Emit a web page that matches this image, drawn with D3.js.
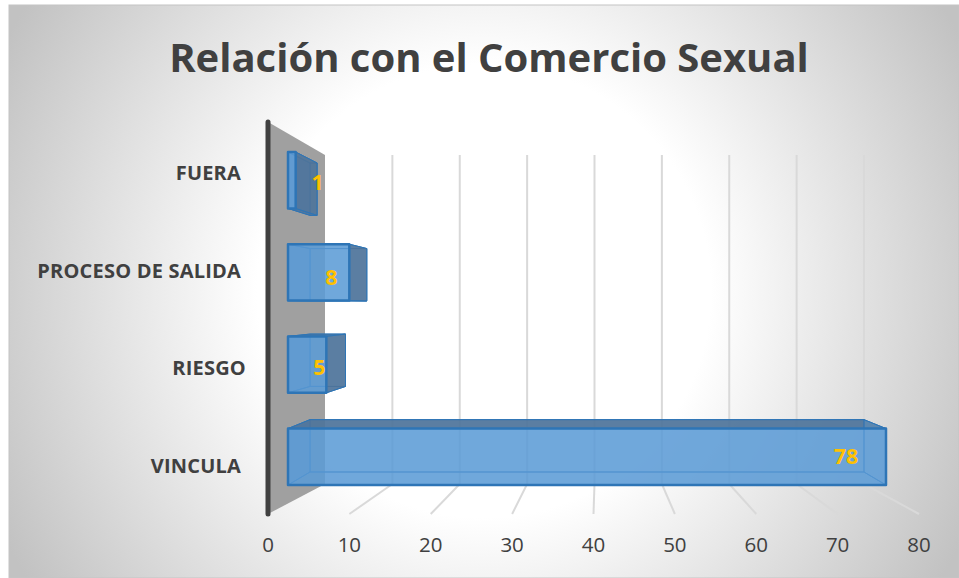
<!DOCTYPE html>
<html>
<head>
<meta charset="UTF-8">
<title>Relación con el Comercio Sexual</title>
<script src="https://d3js.org/d3.v7.min.js"></script>
<style>
    html, body { margin: 0; padding: 0; background: #fff; }
    svg { display: block; font-family: "Open Sans", sans-serif; }
    .title { font-size: 40px; font-weight: 700; fill: #404040; text-anchor: middle; }
    .cat { font-size: 20px; font-weight: 700; fill: #404040; text-anchor: end; letter-spacing: 0.2px; }
    .tick-label { font-size: 20.5px; fill: #404040; text-anchor: middle; }
    .value { font-size: 21.5px; font-weight: 700; fill: #ffc000; text-anchor: middle; }
    .grid { stroke: #d9d9d9; stroke-width: 2; fill: none; }
    .face { stroke: #2e75b6; stroke-width: 1; stroke-linejoin: round; }
    .front { stroke: #2e75b6; stroke-width: 2.5; stroke-linejoin: round; }
</style>
</head>
<body>
<script>
var titleText = "Relación con el Comercio Sexual";
var categories = ["FUERA", "PROCESO DE SALIDA", "RIESGO", "VINCULA"];
var values = [1, 8, 5, 78];
var ticks = [0, 10, 20, 30, 40, 50, 60, 70, 80];

var width = 959, height = 578;

// the 3D box is faked with two planes: the near one and the far one
var floorX = d3.scaleLinear().domain([0, 80]).range([268, 919]);
var wallX = d3.scaleLinear().domain([0, 80]).range([325, 864]);
var barNearX = d3.scaleLinear().domain([0, 78]).range([288, 886]);
var barFarX = d3.scaleLinear().domain([0, 78]).range([310, 864]);
var barNearY = d3.scaleBand().domain(categories).range([152, 485]).paddingInner(0.388);
var barFarY = d3.scaleBand().domain(categories).range([163, 472]).paddingInner(0.388);
var catY = d3.scalePoint().domain(categories).range([173, 466]);

var wallTop = 155, wallBottom = 484, axisTop = 122, axisBottom = 514;

// small nudges so labels sit where the original puts them
var labelDx = {"FUERA": 22, "PROCESO DE SALIDA": -18, "RIESGO": -7, "VINCULA": -40};
var labelDy = {"FUERA": 2, "PROCESO DE SALIDA": 5, "RIESGO": 3, "VINCULA": 0};
var catRight = {"FUERA": 241, "PROCESO DE SALIDA": 241, "RIESGO": 246, "VINCULA": 241};

var svg = d3.select("body").append("svg")
    .attr("width", width)
    .attr("height", height);

var grad = svg.append("defs").append("radialGradient")
    .attr("id", "bg")
    .attr("gradientUnits", "userSpaceOnUse")
    .attr("cx", 484).attr("cy", 291).attr("r", 540);
grad.append("stop").attr("offset", "0%").attr("stop-color", "#ffffff");
grad.append("stop").attr("offset", "42%").attr("stop-color", "#ffffff");
grad.append("stop").attr("offset", "100%").attr("stop-color", "#c2c2c2");

svg.append("rect")
    .attr("x", 9).attr("y", 5)
    .attr("width", width - 9).attr("height", height - 5)
    .attr("fill", "url(#bg)")
    .attr("stroke", "#c4c4c4");

svg.append("text").attr("class", "title")
    .attr("x", 489).attr("y", 72)
    .text(titleText);

// side wall
svg.append("polygon")
    .attr("points", [[floorX(0), axisTop], [wallX(0), wallTop], [wallX(0), wallBottom], [floorX(0), axisBottom]].join(" "))
    .attr("fill", "#a0a0a0");

// gridlines on the back wall and floor
svg.selectAll(".grid-back")
    .data(ticks.slice(1))
    .enter().append("line")
    .attr("class", "grid")
    .attr("x1", function (d) { return wallX(d); })
    .attr("x2", function (d) { return wallX(d); })
    .attr("y1", wallTop)
    .attr("y2", wallBottom);

svg.selectAll(".grid-floor")
    .data(ticks.slice(1))
    .enter().append("line")
    .attr("class", "grid")
    .attr("x1", function (d) { return wallX(d); })
    .attr("x2", function (d) { return floorX(d); })
    .attr("y1", wallBottom)
    .attr("y2", axisBottom);

// axis bar
svg.append("line")
    .attr("x1", floorX(0)).attr("x2", floorX(0))
    .attr("y1", axisTop).attr("y2", axisBottom)
    .attr("stroke", "#404040")
    .attr("stroke-width", 5)
    .attr("stroke-linecap", "round");

svg.selectAll(".tick-label")
    .data(ticks)
    .enter().append("text")
    .attr("class", "tick-label")
    .attr("x", function (d) { return floorX(d); })
    .attr("y", 552)
    .text(function (d) { return d; });

svg.selectAll(".cat")
    .data(categories)
    .enter().append("text")
    .attr("class", "cat")
    .attr("x", function (d) { return catRight[d]; })
    .attr("y", function (d) { return catY(d); })
    .attr("dy", ".35em")
    .text(function (d) { return d; });

// bars
var rows = categories.map(function (c, i) {
    var v = values[i];
    return {
        cat: c, v: v,
        x0: barNearX(0), x1: barNearX(v),
        y0: barNearY(c), y1: barNearY(c) + barNearY.bandwidth(),
        bx0: barFarX(0), bx1: barFarX(v),
        by0: barFarY(c), by1: barFarY(c) + barFarY.bandwidth()
    };
});

var DARK = "#4f7399", BLUE = "#5b9bd5";

function face(g, pts, fill, alpha, cls) {
    g.append("polygon")
        .attr("class", cls || "face")
        .attr("points", pts.join(" "))
        .attr("fill", fill)
        .attr("fill-opacity", alpha);
}

rows.forEach(function (d) {
    var g = svg.append("g");
    var topOut = d.by0 < d.y0, botOut = d.by1 > d.y1, rightOut = d.bx1 > d.x1;

    // back, left, then the three outer sides, front last
    face(g, [[d.bx0, d.by0], [d.bx1, d.by0], [d.bx1, d.by1], [d.bx0, d.by1]], BLUE, 0.3);
    face(g, [[d.x0, d.y0], [d.bx0, d.by0], [d.bx0, d.by1], [d.x0, d.y1]], BLUE, 0.55);
    face(g, [[d.x0, d.y0], [d.x1, d.y0], [d.bx1, d.by0], [d.bx0, d.by0]], topOut ? DARK : BLUE, topOut ? 0.9 : 0.3);
    face(g, [[d.x0, d.y1], [d.x1, d.y1], [d.bx1, d.by1], [d.bx0, d.by1]], botOut ? DARK : BLUE, botOut ? 0.9 : 0.3);
    face(g, [[d.x1, d.y0], [d.bx1, d.by0], [d.bx1, d.by1], [d.x1, d.y1]], rightOut ? DARK : BLUE, rightOut ? 0.9 : 0.3);
    face(g, [[d.x0, d.y0], [d.x1, d.y0], [d.x1, d.y1], [d.x0, d.y1]], BLUE, 0.82, "front");
});

svg.selectAll(".value")
    .data(rows)
    .enter().append("text")
    .attr("class", "value")
    .attr("x", function (d) { return d.x1 + labelDx[d.cat]; })
    .attr("y", function (d) { return (d.y0 + d.y1) / 2 + labelDy[d.cat]; })
    .attr("dy", ".35em")
    .text(function (d) { return d.v; });
</script>
</body>
</html>
